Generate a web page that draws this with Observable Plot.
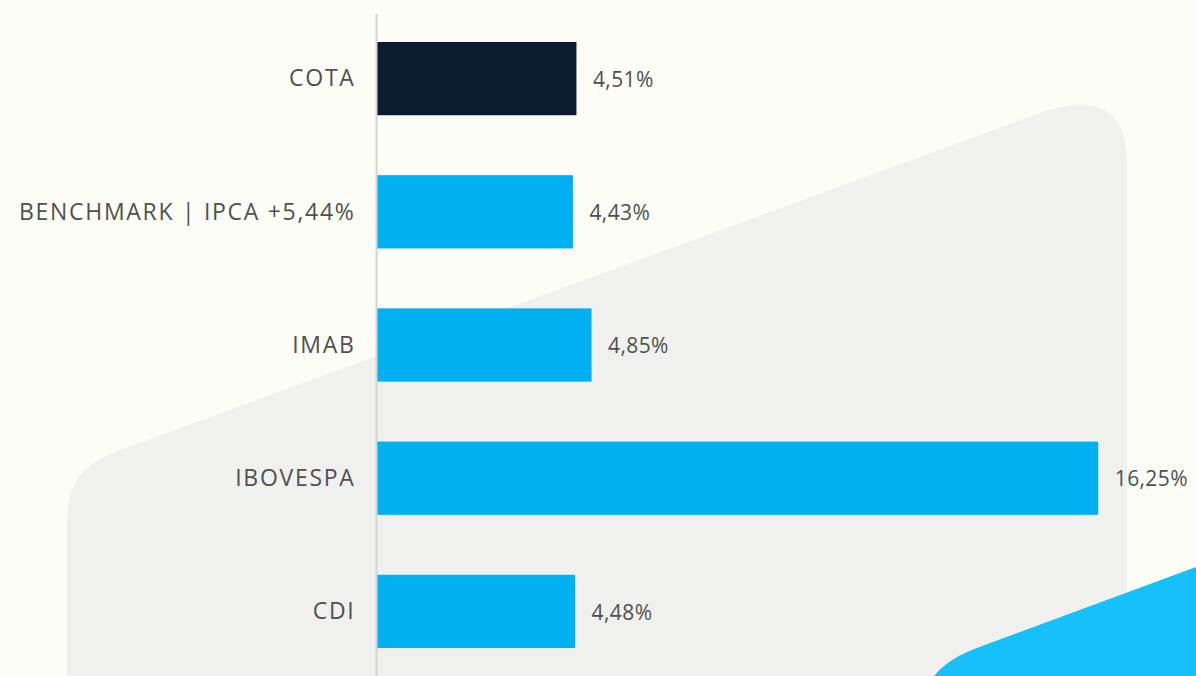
<!DOCTYPE html>
<html>
<head>
<meta charset="utf-8">
<script src="https://cdn.jsdelivr.net/npm/d3@7"></script>
<script src="https://cdn.jsdelivr.net/npm/@observablehq/plot@0.6"></script>
<style>
  html, body { margin: 0; padding: 0; background: #fdfdf8; width: 1196px; height: 676px; overflow: hidden; }
  #wrap { position: relative; width: 1196px; height: 676px; }
  #bg { position: absolute; left: 0; top: 0; }
  #chart { position: absolute; left: 0; top: 0; }
  .ylab text { letter-spacing: 1.7px; }
  .vlab text { letter-spacing: 0.4px; }
</style>
</head>
<body>
<div id="wrap">
  <svg id="bg" width="1196" height="676">
    <path d="M 67 676 L 67 522 C 67 482 82 466 115 452 L 1040 113 C 1098 92 1127 112 1127 162 L 1127 676 Z" fill="#f0f1ee"/>
    <path d="M 934 676 C 946 662 958 655 982 646 L 1196 567 L 1196 676 Z" fill="#16c0fb"/>
  </svg>
  <div id="chart"></div>
</div>
<script>
const categories = ["COTA", "BENCHMARK | IPCA +5,44%", "IMAB", "IBOVESPA", "CDI"];
const values = [4.51, 4.43, 4.85, 16.25, 4.48];
const valueLabels = ["4,51%", "4,43%", "4,85%", "16,25%", "4,48%"];
const barColors = ["#0d1b30", "#00b0f0", "#00b0f0", "#00b0f0", "#00b0f0"];

const data = categories.map((c, i) => ({category: c, value: values[i], label: valueLabels[i], color: barColors[i]}));

const chart = Plot.plot({
  width: 1196,
  height: 676,
  marginLeft: 376,
  marginRight: 20,
  marginTop: 14,
  marginBottom: 0,
  style: {background: "transparent", fontFamily: "'Open Sans', sans-serif", color: "#444"},
  x: {domain: [0, 18], axis: null},
  y: {domain: categories, paddingInner: 0.45, paddingOuter: 0.21, round: false, label: null},
  marks: [
    Plot.barX(data, {x: "value", y: "category", fill: "color", insetLeft: 1}),
    Plot.ruleX([0], {stroke: "#d4d4d4", strokeWidth: 2}),
    Plot.text(data, {x: "value", y: "category", text: "label", textAnchor: "start", dx: 16, dy: 1, fontSize: 21, fill: "#505050", className: "vlab"}),
    Plot.axisY({tickSize: 0, tickPadding: 21, fontSize: 23, fill: "#505050", label: null, className: "ylab"})
  ]
});
document.getElementById("chart").appendChild(chart);
</script>
</body>
</html>
